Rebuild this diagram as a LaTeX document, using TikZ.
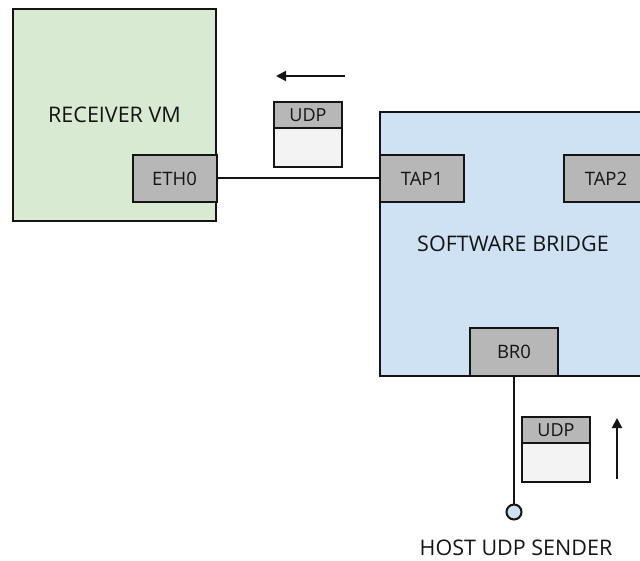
\documentclass[tikz,border=0pt]{standalone}
\usepackage{fontspec}
\setmainfont{Open Sans}
\usetikzlibrary{arrows.meta}
\definecolor{vmgreen}{HTML}{D9EAD3}
\definecolor{bridgeblue}{HTML}{CFE2F3}
\definecolor{portgray}{HTML}{B7B7B7}
\definecolor{payload}{HTML}{F3F3F3}
\definecolor{edge}{HTML}{141414}
\tikzset{
  box/.style={draw=edge, line width=2pt, inner sep=0pt, text=edge, font=\fontsize{18.5}{22}\selectfont},
  port/.style={box, fill=portgray, minimum width=84pt, minimum height=47pt},
  udphead/.style={box, fill=portgray, minimum width=68pt, minimum height=26pt},
  udpbody/.style={box, fill=payload, minimum width=68pt, minimum height=39pt},
  wire/.style={draw=edge, line width=2pt},
  flow/.style={draw=edge, line width=2pt, -{Triangle[length=10pt,width=10pt]}},
  biglabel/.style={font=\fontsize{21.5}{26}\selectfont, text=edge}
}
\begin{document}
\begin{tikzpicture}[x=1pt,y=-1pt]
  \useasboundingbox (0,0) rectangle (640,561);
  \clip (0,0) rectangle (640,561);

  % receiver virtual machine
  \node[box, fill=vmgreen, minimum width=203pt, minimum height=212.5pt] (vm) at (114.5,115.25) {};
  \node[biglabel] (vmlabel) at (114.5,115) {RECEIVER VM};
  \node[port] (eth0) at (174.5,178.5) {ETH0};

  % software bridge
  \node[box, fill=bridgeblue, minimum width=266pt, minimum height=264pt] (bridge) at (513,244) {};
  \node[biglabel] (bridgelabel) at (513,244) {SOFTWARE BRIDGE};
  \node[port] (tap1) at (422,178.5) {TAP1};
  \node[port] (tap2) at (606,178.5) {TAP2};
  \node[port, minimum width=88pt, minimum height=48pt] (br0) at (514,352) {BR0};

  % link between the VM and the bridge
  \draw[wire] (eth0.east) -- (tap1.west);

  % packet travelling towards the VM
  \node[udphead, font=\fontsize{18}{22}\selectfont] (udp1) at (308,115) {UDP};
  \node[udpbody] (body1) at (308,147.5) {};
  \coordinate (a1s) at (345,76);
  \coordinate (a1e) at (276,76);
  \draw[flow] (a1s) -- (a1e);

  % host sender
  \node[draw=edge, line width=2pt, fill=bridgeblue, circle, minimum size=15pt, inner sep=0pt] (host) at (514,512) {};
  \draw[wire] (br0.south) -- (host.north);
  \node[biglabel] (hostlabel) at (516,548) {HOST UDP SENDER};

  % packet travelling towards the bridge
  \node[udphead, font=\fontsize{18}{22}\selectfont] (udp2) at (556,430) {UDP};
  \node[udpbody] (body2) at (556,462.5) {};
  \coordinate (a2s) at (617,479);
  \coordinate (a2e) at (617,418);
  \draw[flow] (a2s) -- (a2e);
\end{tikzpicture}
\end{document}
